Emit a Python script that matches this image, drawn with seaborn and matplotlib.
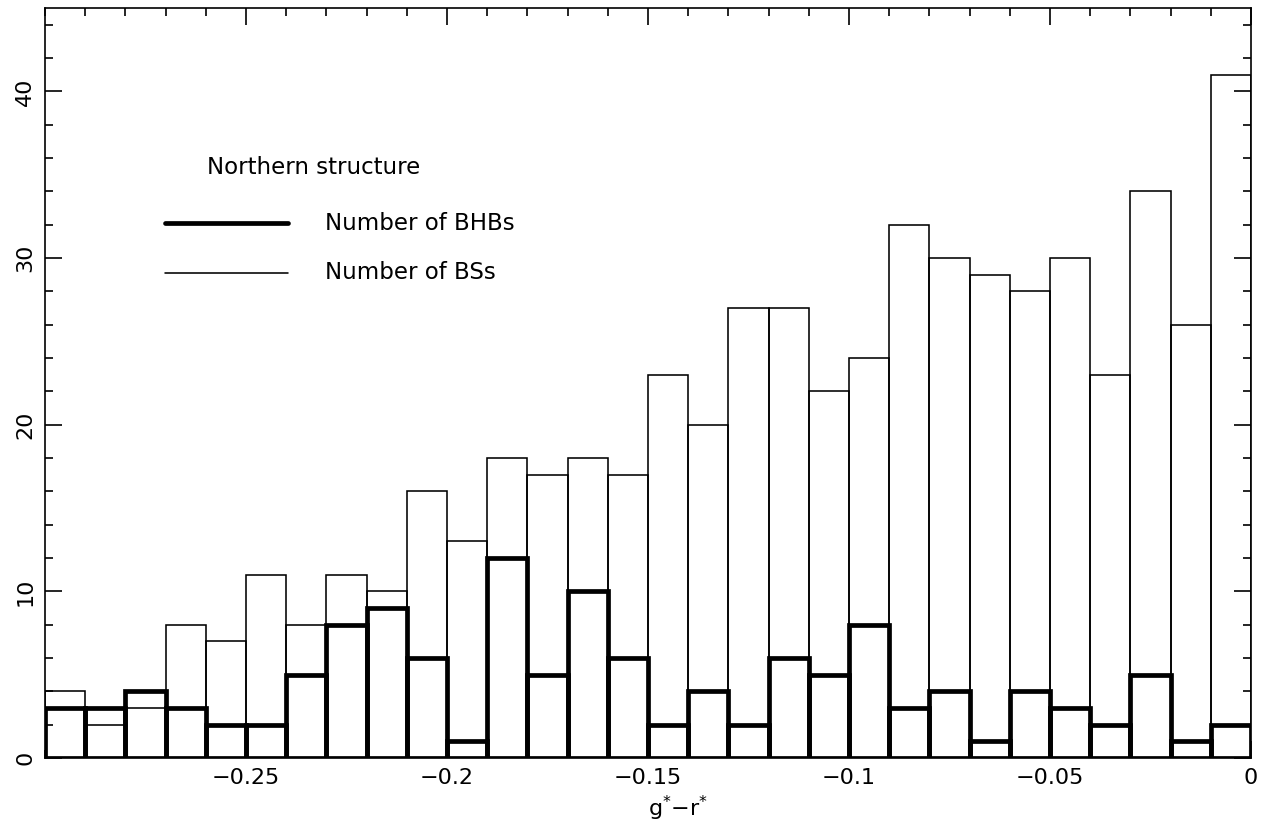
import numpy as np
import pandas as pd
import matplotlib
matplotlib.use("Agg")
import matplotlib.pyplot as plt
import seaborn as sns
from matplotlib.ticker import MultipleLocator

# bin grid: 30 bins of width 0.01 from -0.30 to 0.00
n_bins = 30
bin_range = (-0.30, 0.0)
bin_centers = [-0.295, -0.285, -0.275, -0.265, -0.255, -0.245, -0.235, -0.225, -0.215, -0.205,
               -0.195, -0.185, -0.175, -0.165, -0.155, -0.145, -0.135, -0.125, -0.115, -0.105,
               -0.095, -0.085, -0.075, -0.065, -0.055, -0.045, -0.035, -0.025, -0.015, -0.005]

bs_counts = [4, 2, 3, 8, 7, 11, 8, 11, 10, 16,
             13, 18, 17, 18, 17, 23, 20, 27, 27, 22,
             24, 32, 30, 29, 28, 30, 23, 34, 26, 41]
bhb_counts = [3, 3, 4, 3, 2, 2, 5, 8, 9, 6,
              1, 12, 5, 10, 6, 2, 4, 2, 6, 5,
              8, 3, 4, 1, 4, 3, 2, 5, 1, 2]

title_text = "Northern structure"
label_bhb = "Number of BHBs"
label_bs = "Number of BSs"
xlabel = r"g$^{*}$−r$^{*}$"

df = pd.DataFrame({"color": bin_centers, "bs": bs_counts, "bhb": bhb_counts})

sns.set_style("ticks")
plt.rcParams["font.family"] = ["DejaVu Sans"]
plt.rcParams["text.color"] = "black"
plt.rcParams["xtick.color"] = "black"
plt.rcParams["ytick.color"] = "black"
plt.rcParams["axes.labelcolor"] = "black"

fig = plt.figure(figsize=(12.7, 8.38), dpi=100)
ax = fig.add_axes([45/1270, 80/838, 1206/1270, 750/838])

sns.histplot(data=df, x="color", weights="bs", bins=n_bins, binrange=bin_range,
             element="bars", fill=False, color="black", linewidth=1.15, ax=ax)
sns.histplot(data=df, x="color", weights="bhb", bins=n_bins, binrange=bin_range,
             element="bars", fill=False, color="black", linewidth=3.4, ax=ax)

ax.set_xlim(-0.30, 0.0)
ax.set_ylim(0, 45)
ax.xaxis.set_minor_locator(MultipleLocator(0.01))
ax.yaxis.set_major_locator(MultipleLocator(10))
ax.yaxis.set_minor_locator(MultipleLocator(2))

ax.set_xticks([-0.25, -0.2, -0.15, -0.1, -0.05, 0])
ax.set_xticklabels(["−0.25", "−0.2", "−0.15", "−0.1", "−0.05", "0"])

ax.tick_params(which="both", direction="in", top=True, right=True,
               color="black", width=1.2, labelsize=16)
ax.tick_params(which="major", length=12)
ax.tick_params(which="minor", length=6)
ax.tick_params(axis="x", pad=7)
ax.tick_params(axis="y", pad=7, labelrotation=90)
for lab in ax.get_yticklabels():
    lab.set_va("center")

for sp in ax.spines.values():
    sp.set_visible(True)
    sp.set_linewidth(1.2)
    sp.set_color("black")

ax.set_xlabel(xlabel, fontsize=16, labelpad=5)
ax.xaxis.set_label_coords(0.525, -0.048)
ax.xaxis.label.set_va("top")
ax.set_ylabel("")

# legend block
ax.text(0.134, 0.788, title_text, transform=ax.transAxes, fontsize=16.5,
        va="center", ha="left")
ax.plot([0.0995, 0.2015], [0.713, 0.713], transform=ax.transAxes,
        color="black", linewidth=3.4, solid_capstyle="round")
ax.text(0.232, 0.713, label_bhb, transform=ax.transAxes, fontsize=16.5,
        va="center", ha="left")
ax.plot([0.0995, 0.2015], [0.647, 0.647], transform=ax.transAxes,
        color="black", linewidth=1.15)
ax.text(0.232, 0.647, label_bs, transform=ax.transAxes, fontsize=16.5,
        va="center", ha="left")

fig.savefig("out.png", dpi=100)
